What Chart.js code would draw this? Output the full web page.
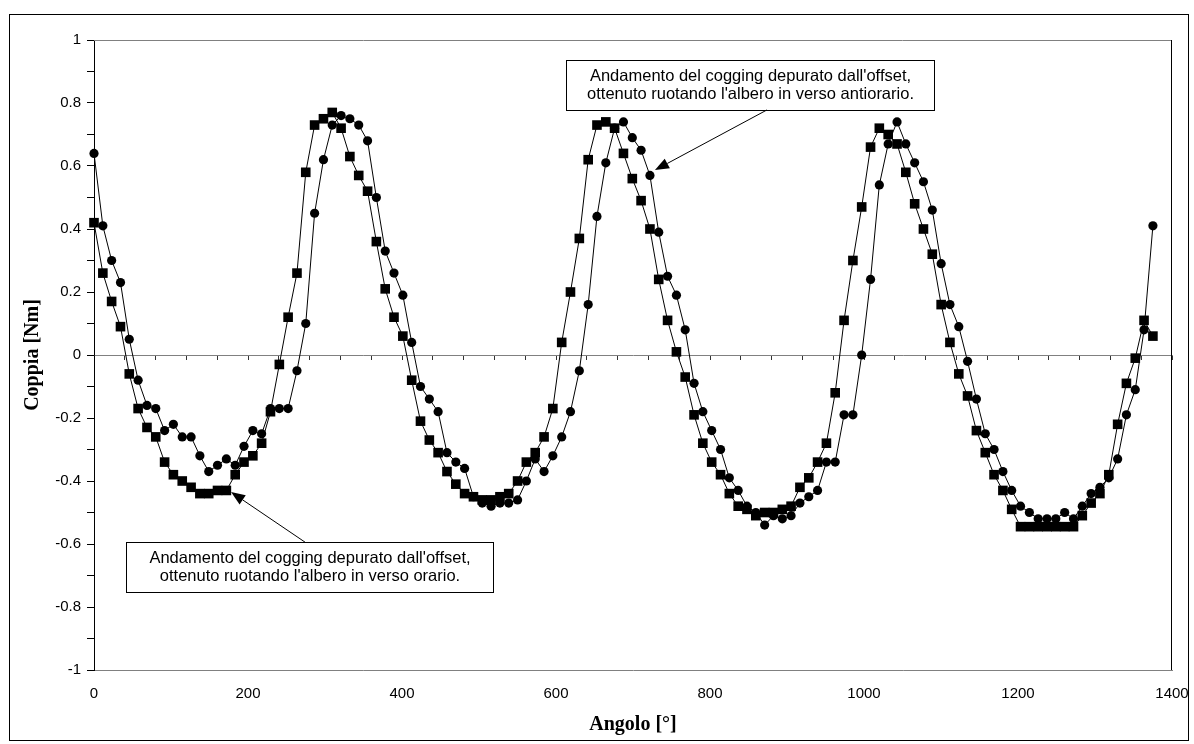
<!DOCTYPE html>
<html>
<head>
<meta charset="utf-8">
<title>Cogging torque</title>
<script src="https://cdn.jsdelivr.net/npm/chart.js@4.4.1/dist/chart.umd.min.js"></script>
<style>
  html, body { margin: 0; padding: 0; background: #fff; overflow: hidden; }
  #wrap { position: relative; width: 1194px; height: 744px; }
</style>
</head>
<body>
<div id="wrap"><canvas id="chart"></canvas></div>
<script>
// Shaft angle of each sample [°]
const angles = [
  0, 11.5, 22.9, 34.4, 45.8, 57.3, 68.8, 80.2, 91.7, 103.1,
  114.6, 126.1, 137.5, 149.0, 160.4, 171.9, 183.4, 194.8, 206.3, 217.7,
  229.2, 240.7, 252.1, 263.6, 275.0, 286.5, 298.0, 309.4, 320.9, 332.3,
  343.8, 355.3, 366.7, 378.2, 389.6, 401.1, 412.6, 424.0, 435.5, 446.9,
  458.4, 469.9, 481.3, 492.8, 504.2, 515.7, 527.2, 538.6, 550.1, 561.5,
  573.0, 584.5, 595.9, 607.4, 618.8, 630.3, 641.8, 653.2, 664.7, 676.1,
  687.6, 699.1, 710.5, 722.0, 733.4, 744.9, 756.4, 767.8, 779.3, 790.7,
  802.2, 813.7, 825.1, 836.6, 848.0, 859.5, 871.0, 882.4, 893.9, 905.3,
  916.8, 928.3, 939.7, 951.2, 962.6, 974.1, 985.6, 997.0, 1008.5, 1019.9,
  1031.4, 1042.9, 1054.3, 1065.8, 1077.2, 1088.7, 1100.2, 1111.6, 1123.1, 1134.5,
  1146.0, 1157.5, 1168.9, 1180.4, 1191.8, 1203.3, 1214.8, 1226.2, 1237.7, 1249.1,
  1260.6, 1272.1, 1283.5, 1295.0, 1306.4, 1317.9, 1329.4, 1340.8, 1352.3, 1363.7,
  1375.2
];

// Cogging torque without offset, shaft turned counter-clockwise [Nm] (circles)
const torqueAntiorario = [
  0.64, 0.41, 0.30, 0.23, 0.05, -0.08, -0.16, -0.17, -0.24, -0.22,
  -0.26, -0.26, -0.32, -0.37, -0.35, -0.33, -0.35, -0.29, -0.24, -0.25,
  -0.17, -0.17, -0.17, -0.05, 0.10, 0.45, 0.62, 0.73, 0.76, 0.75,
  0.73, 0.68, 0.50, 0.33, 0.26, 0.19, 0.04, -0.10, -0.14, -0.18,
  -0.31, -0.34, -0.36, -0.45, -0.47, -0.48, -0.47, -0.47, -0.46, -0.40,
  -0.33, -0.37, -0.32, -0.26, -0.18, -0.05, 0.16, 0.44, 0.61, 0.72,
  0.74, 0.69, 0.65, 0.57, 0.39, 0.25, 0.19, 0.08, -0.09, -0.18,
  -0.24, -0.30, -0.39, -0.43, -0.48, -0.50, -0.54, -0.51, -0.52, -0.51,
  -0.47, -0.45, -0.43, -0.34, -0.34, -0.19, -0.19, 0.00, 0.24, 0.54,
  0.67, 0.74, 0.67, 0.61, 0.55, 0.46, 0.29, 0.16, 0.09, -0.02,
  -0.14, -0.25, -0.30, -0.37, -0.43, -0.48, -0.50, -0.52, -0.52, -0.52,
  -0.50, -0.52, -0.48, -0.44, -0.42, -0.39, -0.33, -0.19, -0.11, 0.08,
  0.41
];

// Cogging torque without offset, shaft turned clockwise [Nm] (squares)
const torqueOrario = [
  0.42, 0.26, 0.17, 0.09, -0.06, -0.17, -0.23, -0.26, -0.34, -0.38,
  -0.40, -0.42, -0.44, -0.44, -0.43, -0.43, -0.38, -0.34, -0.32, -0.28,
  -0.18, -0.03, 0.12, 0.26, 0.58, 0.73, 0.75, 0.77, 0.72, 0.63,
  0.57, 0.52, 0.36, 0.21, 0.12, 0.06, -0.08, -0.21, -0.27, -0.31,
  -0.37, -0.41, -0.44, -0.45, -0.46, -0.46, -0.45, -0.44, -0.40, -0.34,
  -0.31, -0.26, -0.17, 0.04, 0.20, 0.37, 0.62, 0.73, 0.74, 0.72,
  0.64, 0.56, 0.49, 0.40, 0.24, 0.11, 0.01, -0.07, -0.19, -0.28,
  -0.34, -0.38, -0.44, -0.48, -0.49, -0.51, -0.50, -0.50, -0.49, -0.48,
  -0.42, -0.39, -0.34, -0.28, -0.12, 0.11, 0.30, 0.47, 0.66, 0.72,
  0.70, 0.67, 0.58, 0.48, 0.40, 0.32, 0.16, 0.04, -0.06, -0.13,
  -0.24, -0.31, -0.38, -0.43, -0.49, -0.545, -0.545, -0.545, -0.545, -0.545,
  -0.545, -0.545, -0.51, -0.47, -0.44, -0.38, -0.22, -0.09, -0.01, 0.11,
  0.06
];

// Axis ticks
const xLabelTicks = [0, 200, 400, 600, 800, 1000, 1200, 1400];
const xZeroLineTicks = [
  0, 40, 80, 120, 160, 200, 240, 280, 320, 360, 400, 440, 480, 520, 560, 600, 640, 680,
  720, 760, 800, 840, 880, 920, 960, 1000, 1040, 1080, 1120, 1160, 1200, 1240, 1280, 1320, 1360, 1400
];
const yTicks = [-1, -0.9, -0.8, -0.7, -0.6, -0.5, -0.4, -0.3, -0.2, -0.1, 0,
  0.1, 0.2, 0.3, 0.4, 0.5, 0.6, 0.7, 0.8, 0.9, 1];

// Callout texts
const noteOrario = ["Andamento del cogging depurato dall'offset,", "ottenuto ruotando l'albero in verso orario."];
const noteAntiorario = ["Andamento del cogging depurato dall'offset,", "ottenuto ruotando l'albero in verso antiorario."];

// Callout boxes and arrows, in axis units (angle, torque)
const callouts = [
  { lines: noteOrario, box: [41, -0.594, 518, -0.752], from: [274, -0.594], to: [178, -0.435] },
  { lines: noteAntiorario, box: [613, 0.937, 1091, 0.778], from: [874, 0.778], to: [728.5, 0.587] }
];

const SANS = '"Liberation Sans", Arial, sans-serif';
const SERIF = '"Liberation Serif", "Times New Roman", serif';

const toPoints = ys => ys.map((y, i) => ({ x: angles[i], y }));

const framePlugin = {
  id: 'frameAndCallouts',
  beforeDraw(chart) {
    const { ctx, width, height } = chart;
    ctx.save();
    ctx.fillStyle = '#fff';
    ctx.fillRect(0, 0, width, height);
    ctx.strokeStyle = '#000';
    ctx.lineWidth = 1;
    ctx.strokeRect(9.5, 14.5, 1179, 726);
    ctx.restore();
  },
  afterDraw(chart) {
    const { ctx, chartArea: a, scales } = chart;
    const X = v => scales.x.getPixelForValue(v);
    const Y = v => scales.y.getPixelForValue(v);
    ctx.save();
    // plot frame: grey top, black right
    ctx.lineWidth = 1;
    ctx.strokeStyle = '#808080';
    ctx.beginPath();
    ctx.moveTo(a.left, Math.round(a.top) + 0.5);
    ctx.lineTo(a.right, Math.round(a.top) + 0.5);
    ctx.stroke();
    ctx.strokeStyle = '#000';
    ctx.beginPath();
    ctx.moveTo(Math.round(a.right) - 0.5, a.top);
    ctx.lineTo(Math.round(a.right) - 0.5, a.bottom);
    ctx.stroke();

    callouts.forEach(c => {
      const x1 = Math.round(X(c.box[0])) + 0.5, y1 = Math.round(Y(c.box[1])) + 0.5;
      const x2 = Math.round(X(c.box[2])) + 0.5, y2 = Math.round(Y(c.box[3])) + 0.5;
      ctx.fillStyle = '#fff';
      ctx.fillRect(x1, y1, x2 - x1, y2 - y1);
      ctx.strokeStyle = '#000';
      ctx.lineWidth = 1;
      ctx.strokeRect(x1, y1, x2 - x1, y2 - y1);
      ctx.fillStyle = '#000';
      ctx.font = '16.5px ' + SANS;
      ctx.textAlign = 'center';
      ctx.textBaseline = 'middle';
      const cx = (x1 + x2) / 2, cy = (y1 + y2) / 2;
      ctx.fillText(c.lines[0], cx, cy - 9);
      ctx.fillText(c.lines[1], cx, cy + 9);

      // arrow
      const fx = X(c.from[0]), fy = Y(c.from[1]);
      const tx = X(c.to[0]), ty = Y(c.to[1]);
      const ang = Math.atan2(ty - fy, tx - fx);
      const len = 14, half = 5.5;
      const bx = tx - len * Math.cos(ang), by = ty - len * Math.sin(ang);
      ctx.beginPath();
      ctx.moveTo(fx, fy);
      ctx.lineTo(bx, by);
      ctx.stroke();
      ctx.beginPath();
      ctx.moveTo(tx, ty);
      ctx.lineTo(bx + half * Math.sin(ang), by - half * Math.cos(ang));
      ctx.lineTo(bx - half * Math.sin(ang), by + half * Math.cos(ang));
      ctx.closePath();
      ctx.fill();
    });
    ctx.restore();
  }
};

new Chart(document.getElementById('chart'), {
  type: 'line',
  data: {
    datasets: [
      {
        label: 'orario',
        data: toPoints(torqueOrario),
        borderColor: '#000',
        borderWidth: 1,
        backgroundColor: '#000',
        pointStyle: 'rect',
        pointRadius: 6.8,
        pointBackgroundColor: '#000',
        pointBorderColor: '#000',
        pointBorderWidth: 0,
        tension: 0,
        clip: false
      },
      {
        label: 'antiorario',
        data: toPoints(torqueAntiorario),
        borderColor: '#000',
        borderWidth: 1,
        backgroundColor: '#000',
        pointStyle: 'circle',
        pointRadius: 4.6,
        pointBackgroundColor: '#000',
        pointBorderColor: '#000',
        pointBorderWidth: 0,
        tension: 0,
        clip: false
      }
    ]
  },
  options: {
    responsive: true,
    maintainAspectRatio: false,
    animation: false,
    events: [],
    layout: { padding: { left: 0, right: 22, top: 40, bottom: 0 } },
    plugins: { legend: { display: false }, tooltip: { enabled: false } },
    scales: {
      x: {
        type: 'linear',
        position: 'bottom',
        min: 0, max: 1400,
        afterBuildTicks: s => { s.ticks = xLabelTicks.map(v => ({ value: v })); },
        afterFit: s => { s.height = 74; },
        // invisible tick marks only set the gap between the bottom frame and the labels
        grid: { display: true, drawOnChartArea: false, drawTicks: true, tickLength: 15, color: 'rgba(0,0,0,0)' },
        border: { display: true, color: '#808080', width: 1 },
        ticks: {
          color: '#000', font: { family: SANS, size: 15 }, padding: 0, maxRotation: 0, autoSkip: false,
          callback: v => String(v)
        },
        title: { display: true, text: 'Angolo [°]', color: '#000', font: { family: SERIF, size: 20, weight: 'bold' }, padding: { top: 0, bottom: 7 } }
      },
      x0: {
        type: 'linear',
        position: { y: 0 },
        min: 0, max: 1400,
        afterBuildTicks: s => { s.ticks = xZeroLineTicks.map(v => ({ value: v })); },
        grid: { display: true, drawOnChartArea: false, drawTicks: true, tickLength: 4, color: '#333' },
        border: { display: true, color: '#808080', width: 1 },
        ticks: { display: false }
      },
      y: {
        type: 'linear',
        position: 'left',
        min: -1, max: 1,
        afterBuildTicks: s => { s.ticks = yTicks.map(v => ({ value: v })); },
        afterFit: s => { s.width = 94; },
        grid: { display: true, drawOnChartArea: false, drawTicks: true, tickLength: 7, color: '#000' },
        border: { display: true, color: '#000', width: 1 },
        ticks: {
          color: '#000',
          font: { family: SANS, size: 15 },
          padding: 6,
          autoSkip: false,
          callback: v => {
            const t = Math.round(v * 10);
            return t % 2 === 0 ? String(t / 10) : '';
          }
        },
        title: { display: true, text: 'Coppia [Nm]', color: '#000', font: { family: SERIF, size: 20, weight: 'bold' }, padding: { top: 21, bottom: 0 } }
      }
    }
  },
  plugins: [framePlugin]
});
</script>
</body>
</html>
